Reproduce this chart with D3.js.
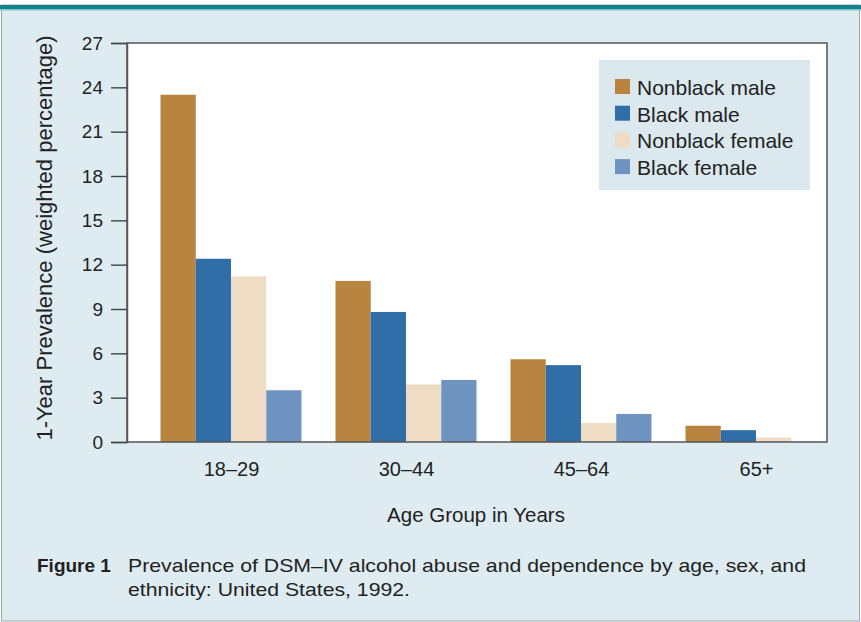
<!DOCTYPE html>
<html><head><meta charset="utf-8">
<script src="https://cdn.jsdelivr.net/npm/d3@7"></script>
<style>
html,body{margin:0;padding:0;background:#fff;}
svg{display:block;font-family:"Liberation Sans",Arial,sans-serif;}
</style></head>
<body>
<svg id="c" width="861" height="622"></svg>
<script>
const categories = ["18–29","30–44","45–64","65+"];
const seriesNames = ["Nonblack male","Black male","Nonblack female","Black female"];
const nonblackMale = [23.5, 10.9, 5.6, 1.1];
const blackMale = [12.4, 8.8, 5.2, 0.8];
const nonblackFemale = [11.2, 3.9, 1.3, 0.3];
const blackFemale = [3.5, 4.2, 1.9, 0];
const yTicks = [0,3,6,9,12,15,18,21,24,27];
const colors = ["#b9843f","#2f6ea6","#eedcc5","#7094c2"];

const seriesVals = [nonblackMale, blackMale, nonblackFemale, blackFemale];
const svg = d3.select("#c");
const W = 861, H = 622;
const plot = {l:127, r:827, t:43, b:442};
const FONT = "Liberation Sans, Arial, sans-serif";
const TXT = "#222";

// background
svg.append("rect").attr("x",0).attr("y",0).attr("width",W).attr("height",H).attr("fill","#ffffff");
svg.append("rect").attr("x",1.5).attr("y",5).attr("width",W-3).attr("height",H-6).attr("fill","#deecf1").attr("stroke","#9aa7ad").attr("stroke-width",1);
svg.append("rect").attr("x",0).attr("y",5).attr("width",W).attr("height",4).attr("fill","#17808d");
svg.append("rect").attr("x",0).attr("y",9).attr("width",W).attr("height",1.5).attr("fill","#7cc5cb");

// plot area
svg.append("rect").attr("x",plot.l).attr("y",plot.t).attr("width",plot.r-plot.l).attr("height",plot.b-plot.t)
  .attr("fill","#ffffff");

const y = d3.scaleLinear().domain([0,27]).range([plot.b, plot.t]);
const x0 = d3.scalePoint().domain(categories).range([231, 756]);
const x1 = d3.scaleBand().domain(seriesNames).range([-70.5, 70.5]).padding(0);

// bars
categories.forEach((c, ci) => {
  seriesNames.forEach((s, si) => {
    const v = seriesVals[si][ci];
    if (v <= 0) return;
    svg.append("rect")
      .attr("x", x0(c) + x1(s))
      .attr("y", y(v))
      .attr("width", x1.bandwidth())
      .attr("height", y(0) - y(v))
      .attr("fill", colors[si]);
  });
});

// frame
svg.append("rect").attr("x",plot.l).attr("y",plot.t).attr("width",plot.r-plot.l).attr("height",plot.b-plot.t)
  .attr("fill","none").attr("stroke","#555").attr("stroke-width",1.5);

// y axis
const yAxis = d3.axisLeft(y).tickValues(yTicks).tickSize(16).tickPadding(8);
const ya = svg.append("g").attr("transform",`translate(${plot.l},0)`).call(yAxis);
ya.attr("font-size",19).attr("font-family",FONT);
ya.select(".domain").attr("stroke","#555").attr("stroke-width",1.5);
ya.selectAll(".tick line").attr("stroke","#444").attr("stroke-width",1.4);
ya.selectAll(".tick text").attr("font-size",19).attr("fill",TXT).attr("font-family",FONT);

// x axis labels
const xAxis = d3.axisBottom(x0).tickSize(0).tickPadding(20);
const xa = svg.append("g").attr("transform",`translate(0,${plot.b})`).call(xAxis);
xa.attr("font-size",20).attr("font-family",FONT);
xa.select(".domain").remove();
xa.selectAll(".tick text").attr("font-size",20).attr("fill",TXT).attr("font-family",FONT);

// axis titles
svg.append("text").attr("x",476).attr("y",522).attr("text-anchor","middle")
  .attr("font-size",20.5).attr("fill",TXT).text("Age Group in Years");
svg.append("text").attr("transform","translate(52,238) rotate(-90)").attr("text-anchor","middle")
  .attr("font-size",22).attr("fill",TXT).text("1-Year Prevalence (weighted percentage)");

// legend
const lg = svg.append("g");
lg.append("rect").attr("x",599).attr("y",60).attr("width",211).attr("height",130).attr("fill","#dbe8ee");
seriesNames.forEach((s,i) => {
  const top = 79 + i*26.7;
  lg.append("rect").attr("x",615).attr("y",top).attr("width",15).attr("height",15).attr("fill",colors[i]);
  lg.append("text").attr("x",637).attr("y",top+16).attr("font-size",21).attr("fill",TXT).text(s);
});

// caption
svg.append("text").attr("x",37).attr("y",572).attr("font-size",19).attr("font-weight","bold").attr("fill",TXT).text("Figure 1");
svg.append("text").attr("x",128).attr("y",572).attr("font-size",19).attr("fill",TXT)
  .attr("textLength",678).attr("lengthAdjust","spacingAndGlyphs")
  .text("Prevalence of DSM–IV alcohol abuse and dependence by age, sex, and");
svg.append("text").attr("x",128).attr("y",596).attr("font-size",19).attr("fill",TXT)
  .attr("textLength",282).attr("lengthAdjust","spacingAndGlyphs")
  .text("ethnicity: United States, 1992.");
</script>
</body></html>
